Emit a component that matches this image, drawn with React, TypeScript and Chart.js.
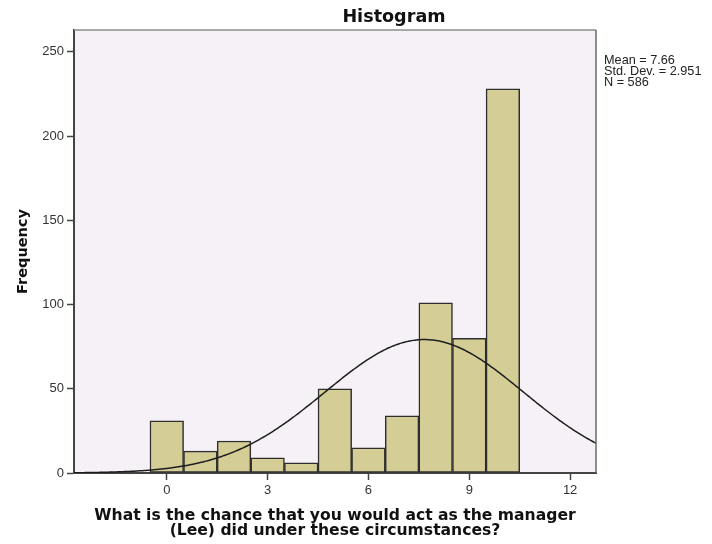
import React, { useEffect, useRef } from "react";
import { Chart, registerables } from "chart.js";

Chart.register(...registerables);

// Frequency per response value (0–10)
const VALUES = [0, 1, 2, 3, 4, 5, 6, 7, 8, 9, 10];
const FREQUENCIES = [31, 13, 19, 9, 6, 50, 15, 34, 101, 80, 228];

// Summary statistics shown beside the plot
const MEAN = 7.66;
const STD_DEV = 2.951;
const N = 586;
const STATS_LINES = [`Mean = ${MEAN}`, `Std. Dev. = ${STD_DEV}`, `N = ${N}`];

const X_TICKS = [0, 3, 6, 9, 12];
const Y_TICKS = [0, 50, 100, 150, 200, 250];
const X_MIN = -2.76;
const X_MAX = 12.77;
const Y_MAX = 263;

const TITLE = "Histogram";
const X_TITLE = [
  "What is the chance that you would act as the manager",
  "(Lee) did under these circumstances?",
];
const Y_TITLE = "Frequency";

// Fitted normal curve scaled to counts (bin width 1)
function normalCurve() {
  const pts: { x: number; y: number }[] = [];
  const steps = 320;
  for (let i = 0; i <= steps; i++) {
    const x = X_MIN + ((X_MAX - X_MIN) * i) / steps;
    const z = (x - MEAN) / STD_DEV;
    const y = (N / (STD_DEV * Math.sqrt(2 * Math.PI))) * Math.exp(-0.5 * z * z);
    pts.push({ x, y });
  }
  return pts;
}

const plotDecor = {
  id: "plotDecor",
  beforeDraw(chart: any) {
    const { ctx, chartArea: a } = chart;
    ctx.save();
    ctx.fillStyle = "#f6f1f6";
    ctx.fillRect(a.left, a.top, a.right - a.left, a.bottom - a.top);
    ctx.restore();
  },
  afterDraw(chart: any) {
    const { ctx, chartArea: a } = chart;
    ctx.save();
    // top and right frame
    ctx.strokeStyle = "#8c8c8c";
    ctx.lineWidth = 1.5;
    ctx.beginPath();
    ctx.moveTo(a.left, a.top);
    ctx.lineTo(a.right, a.top);
    ctx.stroke();
    ctx.strokeStyle = "#6a6a6a";
    ctx.beginPath();
    ctx.moveTo(a.right, a.top);
    ctx.lineTo(a.right, a.bottom);
    ctx.stroke();

    // chart title
    ctx.fillStyle = "#111";
    ctx.font = "bold 17.6px 'DejaVu Sans'";
    ctx.textAlign = "center";
    ctx.textBaseline = "alphabetic";
    ctx.fillText(TITLE, 394, 22);

    // statistics block
    ctx.font = "12.7px 'Liberation Sans'";
    ctx.textAlign = "left";
    ctx.fillStyle = "#222";
    STATS_LINES.forEach((line, i) => {
      ctx.fillText(line, a.right + 8, 63.5 + i * 11.3);
    });
    ctx.restore();
  },
};

export default function App() {
  const ref = useRef<HTMLCanvasElement | null>(null);

  useEffect(() => {
    if (!ref.current) return;
    const chart = new Chart(ref.current, {
      type: "bar",
      data: {
        datasets: [
          {
            type: "bar",
            data: VALUES.map((v, i) => ({ x: v, y: FREQUENCIES[i] })),
            backgroundColor: "#d4ce96",
            borderColor: "#2e2e2e",
            borderWidth: 1.5,
            borderSkipped: false,
            barPercentage: 1,
            categoryPercentage: 1,
            order: 2,
          },
          {
            type: "line",
            data: normalCurve(),
            borderColor: "#1e1e1e",
            borderWidth: 1.5,
            pointRadius: 0,
            fill: false,
            tension: 0,
            order: 1,
          } as any,
        ],
      },
      options: {
        responsive: false,
        animation: false,
        devicePixelRatio: 1,
        layout: { padding: { left: 0, right: 116, top: 30, bottom: 0 } },
        plugins: {
          legend: { display: false },
          tooltip: { enabled: false },
          title: { display: false },
        },
        scales: {
          x: {
            type: "linear",
            min: X_MIN,
            max: X_MAX,
            offset: false,
            afterBuildTicks: (s: any) => {
              s.ticks = X_TICKS.map((v) => ({ value: v }));
            },
            afterFit: (s: any) => {
              s.height = 544 - 473;
            },
            grid: {
              display: true,
              offset: false,
              drawOnChartArea: false,
              drawTicks: true,
              tickLength: 7,
              tickWidth: 1.5,
              tickColor: "#444",
            },
            border: { display: true, color: "#444", width: 2 },
            ticks: {
              color: "#333",
              padding: 3,
              maxRotation: 0,
              autoSkip: false,
              font: { family: "'Liberation Sans'", size: 13 },
            },
            title: {
              display: true,
              text: X_TITLE,
              color: "#111",
              padding: { top: 0, bottom: 5 },
              font: { family: "'DejaVu Sans'", size: 15.6, weight: "bold", lineHeight: 1.0 },
            },
          },
          y: {
            type: "linear",
            min: 0,
            max: Y_MAX,
            afterBuildTicks: (s: any) => {
              s.ticks = Y_TICKS.map((v) => ({ value: v }));
            },
            afterFit: (s: any) => {
              s.width = 74;
            },
            grid: {
              display: true,
              drawOnChartArea: false,
              drawTicks: true,
              tickLength: 7,
              tickWidth: 1.5,
              tickColor: "#444",
            },
            border: { display: true, color: "#444", width: 2 },
            ticks: {
              color: "#333",
              padding: 3,
              autoSkip: false,
              font: { family: "'Liberation Sans'", size: 13 },
            },
            title: {
              display: true,
              text: Y_TITLE,
              color: "#111",
              padding: { top: 15, bottom: 0 },
              font: { family: "'DejaVu Sans'", size: 14.5, weight: "bold", lineHeight: 1.2 },
            },
          },
        },
      },
      plugins: [plotDecor],
    });
    return () => chart.destroy();
  }, []);

  return (
    <div style={{ position: "absolute", left: 0, top: 0, width: 712, height: 544, background: "#fff" }}>
      <canvas ref={ref} width={712} height={544} style={{ display: "block" }} />
    </div>
  );
}
